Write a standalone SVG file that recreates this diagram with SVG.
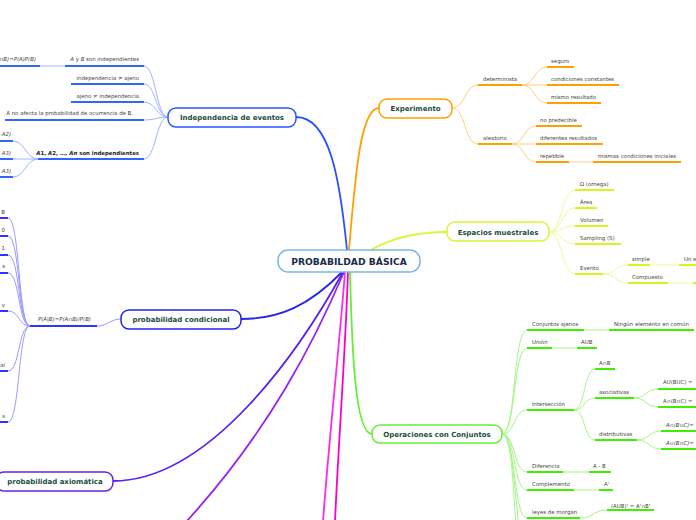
<svg xmlns="http://www.w3.org/2000/svg" width="696" height="520" viewBox="0 0 696 520">
<style>
text{font-family:"DejaVu Sans","Noto Sans",sans-serif}
.nt{font-size:7px;font-weight:bold;fill:#1b4d3e;text-anchor:middle}
.t{font-size:5.4px;fill:#444}
.e{text-anchor:end}
.b{font-weight:bold;fill:#222}
.i{font-style:italic}
.nr{fill:#fff;stroke-width:1.5}
.m{fill:none;stroke-width:1.8;stroke-linecap:round}
.c{fill:none;stroke-width:1}
.u{fill:none;stroke-width:2}
</style>
<rect width="696" height="520" fill="#fff"/>
<g id="connectors">
  <path class="m" stroke="#ff2be6" d="M345,272 C338,360 328,450 323,522"/>
  <path class="m" stroke="#ff00c8" d="M348,272 C345,360 338,450 335,522"/>
  <path class="m" stroke="#9a22ee" d="M344,272 C315,340 270,430 186,522"/>
  <path class="m" stroke="#5a22ee" d="M343,272 C300,350 210,481 113,481"/>
  <path class="m" stroke="#2626e8" d="M342,272 C310,305 280,319 241,319"/>
  <path class="m" stroke="#2a50ff" d="M347,250 C340,180 330,117 296,117"/>
  <path class="m" stroke="#ffa000" d="M349,250 C355,180 360,108 379,108"/>
  <path class="m" stroke="#dcf53a" d="M371,250 C395,236 420,232 447,232"/>
  <path class="m" stroke="#66ee33" d="M350,272 C352,350 355,434 372,434"/>

  <g stroke="#ffcf80">
    <path class="c" d="M452,108 C466,108 464,85 478,85"/>
    <path class="c" d="M452,108 C466,108 464,144 478,144"/>
    <path class="c" d="M522,85 C535,85 534,67 547,67"/>
    <path class="c" d="M522,85 L547,85"/>
    <path class="c" d="M522,85 C535,85 534,103 547,103"/>
    <path class="c" d="M512,144 C524,144 524,126 536,126"/>
    <path class="c" d="M512,144 L536,144"/>
    <path class="c" d="M512,144 C524,144 524,162 536,162"/>
    <path class="c" d="M569,162 L593,162"/>
  </g>
  <g stroke="#ffa000">
    <path class="u" d="M478,85 H522"/><path class="u" d="M547,67 H574"/><path class="u" d="M547,85 H619"/><path class="u" d="M547,103 H601"/>
    <path class="u" d="M478,144 H512"/><path class="u" d="M536,126 H582"/><path class="u" d="M536,144 H603"/><path class="u" d="M536,162 H569"/><path class="u" d="M593,162 H681"/>
  </g>

  <g stroke="#eefa9c">
    <path class="c" d="M549,232 C562,232 562,190 575,190"/>
    <path class="c" d="M549,232 C562,232 562,208 575,208"/>
    <path class="c" d="M549,232 C562,232 562,226 575,226"/>
    <path class="c" d="M549,232 C562,232 562,244 575,244"/>
    <path class="c" d="M549,232 C562,232 562,274 575,274"/>
    <path class="c" d="M603,274 C616,274 615,265 628,265"/>
    <path class="c" d="M603,274 C616,274 615,283 628,283"/>
    <path class="c" d="M650,265 L679,265"/>
    <path class="c" d="M668,283 L696,283"/>
  </g>
  <g stroke="#d8f51c">
    <path class="u" d="M575,190 H614"/><path class="u" d="M575,208 H597"/><path class="u" d="M575,226 H608"/><path class="u" d="M575,244 H621"/><path class="u" d="M575,274 H603"/>
    <path class="u" d="M628,265 H650"/><path class="u" d="M679,265 H696"/><path class="u" d="M628,283 H668"/><path class="u" d="M693,283 H696"/>
  </g>

  <g stroke="#a6f58a">
    <path class="c" d="M502,434 C516,434 513,330 527,330"/>
    <path class="c" d="M502,434 C516,434 513,348 527,348"/>
    <path class="c" d="M502,434 C516,434 513,410 527,410"/>
    <path class="c" d="M502,434 C516,434 513,472 527,472"/>
    <path class="c" d="M502,434 C516,434 513,490 527,490"/>
    <path class="c" d="M502,434 C516,434 513,518 527,518"/>
    <path class="c" d="M502,434 C516,434 512,540 522,560"/>
    <path class="c" d="M502,434 C516,434 515,540 528,580"/>
    <path class="c" d="M584,330 L609,330"/>
    <path class="c" d="M552,348 L577,348"/>
    <path class="c" d="M574,410 C585,410 584,369 595,369"/>
    <path class="c" d="M574,410 C585,410 584,398 595,398"/>
    <path class="c" d="M574,410 C585,410 584,440 595,440"/>
    <path class="c" d="M634,398 C646,398 646,389 658,389"/>
    <path class="c" d="M634,398 C646,398 646,407 658,407"/>
    <path class="c" d="M637,440 C649,440 649,431 661,431"/>
    <path class="c" d="M637,440 C649,440 649,449 661,449"/>
    <path class="c" d="M563,472 L589,472"/>
    <path class="c" d="M574,490 L599,490"/>
    <path class="c" d="M580,518 C594,518 593,510 607,510"/>
  </g>
  <g stroke="#3ef000">
    <path class="u" d="M527,330 H584"/><path class="u" d="M609,330 H694"/>
    <path class="u" d="M527,348 H552"/><path class="u" d="M577,348 H597"/>
    <path class="u" d="M595,369 H615"/><path class="u" d="M595,398 H634"/>
    <path class="u" d="M658,389 H696"/><path class="u" d="M658,407 H696"/>
    <path class="u" d="M527,410 H574"/><path class="u" d="M595,440 H637"/>
    <path class="u" d="M661,431 H696"/><path class="u" d="M661,449 H696"/>
    <path class="u" d="M527,472 H563"/><path class="u" d="M589,472 H611"/>
    <path class="u" d="M527,490 H574"/><path class="u" d="M599,490 H613"/>
    <path class="u" d="M527,518 H580"/><path class="u" d="M607,510 H654"/>
  </g>

  <g stroke="#9db5ff">
    <path class="c" d="M168,117 C156,117 156,66 144,66"/>
    <path class="c" d="M168,117 C156,117 156,84 144,84"/>
    <path class="c" d="M168,117 C156,117 156,102 144,102"/>
    <path class="c" d="M168,117 C156,117 156,120 144,120"/>
    <path class="c" d="M168,117 C156,117 156,159 144,159"/>
    <path class="c" d="M65,66 L40,66"/>
    <path class="c" d="M38,159 C26,159 25,141 13,141"/>
    <path class="c" d="M38,159 L13,159"/>
    <path class="c" d="M38,159 C26,159 25,177 13,177"/>
  </g>
  <g stroke="#3366ff">
    <path class="u" d="M65,66 H144"/><path class="u" d="M0,66 H40"/>
    <path class="u" d="M71,84 H144"/><path class="u" d="M71,102 H144"/>
    <path class="u" d="M5,120 H144"/><path class="u" d="M38,159 H144"/>
    <path class="u" d="M0,141 H13"/><path class="u" d="M0,159 H13"/><path class="u" d="M0,177 H13"/>
  </g>

  <g stroke="#9a9aff">
    <path class="c" d="M121,319 C110,319 108,326 97,326"/>
    <path class="c" d="M30,326 C18,326 20,218 8,218"/>
    <path class="c" d="M30,326 C18,326 20,236 8,236"/>
    <path class="c" d="M30,326 C18,326 20,255 8,255"/>
    <path class="c" d="M30,326 C18,326 20,273 8,273"/>
    <path class="c" d="M30,326 C18,326 20,311 8,311"/>
    <path class="c" d="M30,326 C18,326 20,371 8,371"/>
    <path class="c" d="M30,326 C18,326 20,422 8,422"/>
  </g>
  <g stroke="#3333ff">
    <path class="u" d="M30,326 H97"/>
    <path class="u" d="M0,218 H8"/><path class="u" d="M0,236 H8"/><path class="u" d="M0,255 H8"/><path class="u" d="M0,273 H8"/>
    <path class="u" d="M0,311 H8"/><path class="u" d="M0,371 H8"/><path class="u" d="M0,422 H8"/>
  </g>
</g>

<g id="node-root">
  <rect class="nr" x="278" y="250" width="142" height="22" rx="10" stroke="#7ab6e0"/>
  <text x="349" y="265" style="font-size:9.2px;font-weight:bold;fill:#1c2b4a;text-anchor:middle">PROBABILDAD BÁSICA</text>
</g>

<g id="node-experimento">
  <rect class="nr" x="379" y="99" width="73" height="19" rx="8" stroke="#ffa000"/>
  <text class="nt" x="415.5" y="111">Experimento</text>
  <text class="t" x="483" y="81">determinista</text>
  <text class="t" x="551" y="63">seguro</text>
  <text class="t" x="551" y="81">condiciones constantes</text>
  <text class="t" x="551" y="99">mismo resultado</text>
  <text class="t" x="483" y="140">aleatorio</text>
  <text class="t" x="540" y="122">no predecible</text>
  <text class="t" x="540" y="140">diferentes resultados</text>
  <text class="t" x="540" y="158">repetible</text>
  <text class="t" x="598" y="158">mismas condiciones iniciales</text>
</g>

<g id="node-espacios">
  <rect class="nr" x="447" y="222" width="102" height="19" rx="8" stroke="#d8f53a"/>
  <text class="nt" x="498" y="234.5">Espacios muestrales</text>
  <text class="t" x="580" y="186">Ω (omega)</text>
  <text class="t" x="580" y="204">Área</text>
  <text class="t" x="580" y="222">Volumen</text>
  <text class="t" x="580" y="240">Sampling (S)</text>
  <text class="t" x="580" y="270">Evento</text>
  <text class="t" x="632" y="261">simple</text>
  <text class="t" x="684" y="261">Un e</text>
  <text class="t" x="632" y="279">Compuesto</text>
</g>

<g id="node-operaciones">
  <rect class="nr" x="372" y="425" width="130" height="18" rx="8" stroke="#66ee33"/>
  <text class="nt" x="437" y="436.5">Operaciones con Conjuntos</text>
  <text class="t" x="532" y="326">Conjuntos ajenos</text>
  <text class="t" x="614" y="326">Ningún elemento en común</text>
  <text class="t" x="532" y="344">Unión</text>
  <text class="t" x="581" y="344">AUB</text>
  <text class="t" x="599" y="365">A∩B</text>
  <text class="t" x="599" y="394">asociativas</text>
  <text class="t" x="663" y="384">AU(BUC) =</text>
  <text class="t" x="663" y="403">A∩(B∩C) =</text>
  <text class="t" x="532" y="406">Intersección</text>
  <text class="t" x="599" y="436">distributivas</text>
  <text class="t i" x="666" y="427">A∩(B∪C)=</text>
  <text class="t i" x="666" y="445">A∪(B∩C)=</text>
  <text class="t" x="532" y="468">Diferencia</text>
  <text class="t" x="593" y="468">A - B</text>
  <text class="t" x="532" y="486">Complemento</text>
  <text class="t" x="604" y="486">A'</text>
  <text class="t" x="532" y="514">leyes de morgan</text>
  <text class="t" x="611" y="507.5">(AUB)' = A'∩B'</text>
</g>

<g id="node-independencia">
  <rect class="nr" x="168" y="108" width="128" height="19" rx="8" stroke="#2a55ff"/>
  <text class="nt" x="232" y="120">Independencia de eventos</text>
  <text class="t e" x="139" y="61"><tspan class="i">A</tspan> y <tspan class="i">B</tspan> son independientes</text>
  <text class="t e i" x="36" y="61">∩B)=P(A)P(B)</text>
  <text class="t e" x="139" y="80">independencia ≠ ajeno</text>
  <text class="t e" x="139" y="98">ajeno ≠ independencia</text>
  <text class="t e" x="133" y="115">A no afecta la probabilidad de ocurrencia de B.</text>
  <text class="t e b" x="139" y="155"><tspan class="i">A</tspan>1, <tspan class="i">A</tspan>2, …, <tspan class="i">An</tspan> son independientes</text>
  <text class="t e i" x="11" y="136">A2)</text>
  <text class="t e i" x="11" y="155">A3)</text>
  <text class="t e i" x="11" y="173">A3)</text>
</g>

<g id="node-condicional">
  <rect class="nr" x="121" y="310" width="120" height="19" rx="8" stroke="#2222ee"/>
  <text class="nt" x="181" y="322">probabilidad condicional</text>
  <text class="t i" x="38" y="321">P(A|B)=P(A∩B)/P(B)</text>
  <text class="t e" x="5" y="214">B</text>
  <text class="t e" x="5" y="232">0</text>
  <text class="t e" x="5" y="250">1</text>
  <text class="t e" x="5" y="268">s</text>
  <text class="t e" x="5" y="307">v</text>
  <text class="t e" x="5" y="367">al</text>
  <text class="t e" x="5" y="418">s</text>
</g>

<g id="node-axiomatica">
  <rect class="nr" x="-4" y="472" width="117" height="19" rx="8" stroke="#6622ee"/>
  <text class="nt" x="55" y="484">probabilidad axiomática</text>
</g>
</svg>
